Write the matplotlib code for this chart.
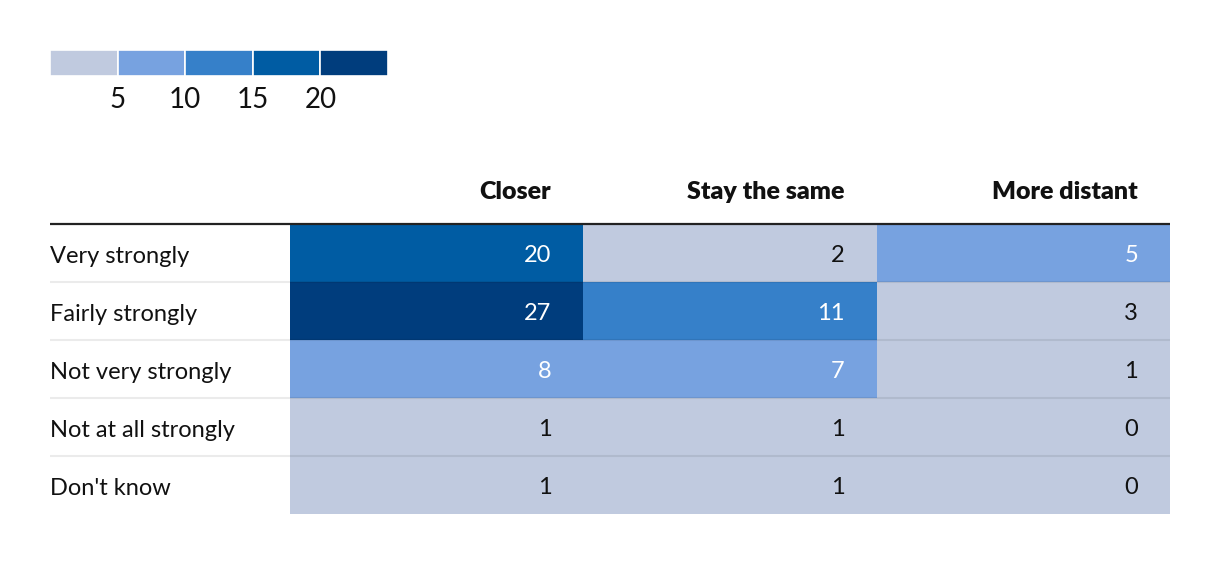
import numpy as np
import matplotlib
matplotlib.use('Agg')
import matplotlib.pyplot as plt
from matplotlib.colors import ListedColormap, BoundaryNorm

plt.rcParams['font.family'] = ['Lato', 'DejaVu Sans']

# data
rows = ['Very strongly', 'Fairly strongly', 'Not very strongly', 'Not at all strongly', "Don't know"]
cols = ['Closer', 'Stay the same', 'More distant']
values = np.array([
    [20, 2, 5],
    [27, 11, 3],
    [8, 7, 1],
    [1, 1, 0],
    [1, 1, 0],
])
legend_ticks = [5, 10, 15, 20]
colors = ['#c0cadf', '#77a2e0', '#3680c9', '#005ca3', '#003d7d']
# shown values are rounded, "20" sits in the 15-20 band
bounds = [-1, 5, 10, 15, 20.5, 100]

W, H = 1220, 564
fig = plt.figure(figsize=(W / 100, H / 100), dpi=100)

cmap = ListedColormap(colors)
norm = BoundaryNorm(bounds, cmap.N)

# heatmap table
ax = fig.add_axes([290 / W, 1 - 514 / H, 880 / W, 290 / H])
ax.pcolormesh(np.arange(len(cols) + 1), np.arange(len(rows) + 1), values, cmap=cmap, norm=norm)
ax.set_xlim(0, len(cols))
ax.set_ylim(len(rows), 0)
ax.axis('off')

col_w = 880 / len(cols)
pad = 32 / col_w
lab_x = -240 / 880  # left edge of label column, in axes fraction
ytr = ax.get_yaxis_transform()

for i, r in enumerate(rows):
    ax.text(lab_x, i + 0.56, r, transform=ytr, ha='left', va='center',
            fontsize=17, color='#111111')
    for j, c in enumerate(cols):
        v = values[i, j]
        tc = 'white' if v >= 5 else '#111111'
        ax.text(j + 1 - pad, i + 0.55, str(v), ha='right', va='center', fontsize=17, color=tc)

# row separators
for i in range(1, len(rows)):
    ax.plot([lab_x, 1], [i, i], transform=ytr, color='black', alpha=0.08, lw=1.5,
            clip_on=False, solid_capstyle='butt')

# header rule
ax.plot([lab_x, 1], [0, 0], transform=ytr, color='#222222', lw=1.6, clip_on=False,
        solid_capstyle='butt')

for j, c in enumerate(cols):
    ax.text((j + 1 - pad) / len(cols), 1 + 32 / 290, c, transform=ax.transAxes, ha='right',
            va='center', fontsize=18, fontweight='heavy', color='#111111')

# legend
lax = fig.add_axes([50 / W, 1 - 76 / H, 338 / W, 26 / H])
lax.bar(np.arange(len(colors)), 1, width=1, align='edge', color=colors, edgecolor='white', linewidth=1.2)
lax.set_xlim(0, len(colors))
lax.set_ylim(0, 1)
lax.set_xticks(np.arange(1, len(legend_ticks) + 1))
lax.set_xticklabels([str(t) for t in legend_ticks], fontsize=20, color='#111111')
lax.tick_params(axis='x', length=0, pad=8)
lax.set_yticks([])
for s in lax.spines.values():
    s.set_visible(False)

fig.savefig('out.png', dpi=100)
